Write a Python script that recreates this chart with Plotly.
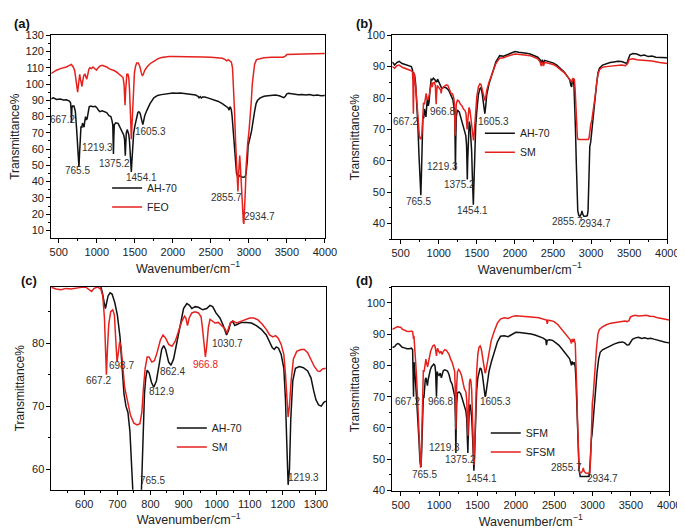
import plotly.graph_objects as go

# ---------------- data (wavenumber cm-1, transmittance %) ----------------
A_AH70 = [(400, 91), (430, 91.5), (470, 90.5), (520, 90.8), (560, 90.2), (600, 90.3), (640, 89.5), (655, 88.5),
          (662, 84), (667, 76), (672, 85), (680, 86.5), (700, 86.5), (718, 83), (735, 72), (748, 60), (758, 51),
          (765, 49), (772, 56), (782, 70), (792, 74), (802, 73), (812, 76), (822, 74.5), (832, 73.5), (842, 77),
          (852, 80), (862, 78), (872, 78.5), (885, 82), (900, 86), (920, 86.5), (950, 86), (980, 86.3), (1000, 85.5),
          (1020, 84), (1040, 83), (1070, 83.5), (1100, 83), (1130, 82.5), (1160, 80.5), (1185, 80), (1200, 77.5),
          (1210, 75), (1215, 65), (1219, 57), (1223, 66), (1230, 75), (1250, 76.2), (1280, 75.8), (1300, 74),
          (1320, 72), (1340, 70.5), (1355, 68.5), (1365, 66), (1371, 60), (1375, 56), (1380, 62), (1388, 70),
          (1400, 72), (1410, 71), (1420, 69), (1430, 65), (1440, 58), (1447, 50), (1454, 46), (1461, 52), (1470, 62),
          (1485, 70), (1500, 74), (1520, 79), (1540, 82.5), (1555, 83), (1570, 82), (1585, 79), (1597, 76),
          (1605, 75), (1615, 77), (1630, 80.5), (1660, 84), (1700, 88), (1750, 91.5), (1800, 93), (1850, 93.5),
          (1900, 93.8), (1950, 94.2), (2000, 94.5), (2050, 94.3), (2100, 94.5), (2150, 94.2), (2200, 94),
          (2250, 93.6), (2300, 93.2), (2330, 92.5), (2345, 91.5), (2360, 92.3), (2375, 91.4), (2390, 92),
          (2420, 92), (2460, 91.5), (2500, 91), (2550, 90.2), (2600, 89.3), (2650, 88), (2700, 86.5), (2725, 85.5),
          (2740, 84), (2750, 86), (2760, 85.5), (2770, 84), (2780, 80), (2790, 74), (2800, 68), (2812, 60),
          (2825, 51), (2838, 45), (2850, 43.5), (2865, 43), (2880, 43.8), (2895, 43.2), (2910, 42.8), (2930, 42.7),
          (2950, 43), (2962, 44.5), (2972, 48), (2980, 53), (2990, 62), (3000, 65), (3015, 67), (3035, 71),
          (3055, 78), (3075, 83), (3095, 88), (3115, 90), (3150, 91.5), (3200, 92.5), (3250, 92.8), (3300, 93),
          (3350, 93.2), (3400, 92.8), (3430, 92.3), (3460, 91.6), (3480, 92.5), (3500, 94), (3520, 94.3),
          (3560, 94), (3600, 93.8), (3650, 93.4), (3700, 93.6), (3750, 93.2), (3800, 93.5), (3850, 93),
          (3900, 93.3), (3950, 92.8), (4000, 93)]

A_FEO = [(400, 106.5), (430, 107.5), (470, 108.5), (520, 109.5), (560, 110), (600, 110.5), (640, 111.5), (665, 112),
         (690, 110.5), (710, 108), (725, 103), (738, 98), (748, 95), (758, 99), (767, 104), (775, 106), (785, 103),
         (795, 99), (805, 98.5), (815, 102), (830, 105.5), (845, 106), (855, 104), (868, 103), (880, 105.5),
         (895, 109), (910, 110), (930, 109.5), (950, 110.5), (975, 109.5), (995, 108.5), (1010, 109.5), (1040, 111),
         (1070, 111.5), (1100, 111), (1130, 110.5), (1160, 109.5), (1200, 108.8), (1240, 108), (1270, 107),
         (1300, 106), (1325, 105), (1345, 104), (1358, 100), (1366, 92), (1372, 87), (1378, 95), (1386, 104),
         (1395, 106), (1410, 106), (1420, 104), (1430, 97), (1440, 88), (1448, 75), (1454, 66), (1460, 72),
         (1470, 90), (1480, 101), (1495, 107), (1510, 111), (1525, 113), (1545, 113), (1565, 111), (1585, 107),
         (1600, 105), (1612, 106), (1630, 108.5), (1660, 110.5), (1700, 112.5), (1750, 114), (1800, 115.5),
         (1850, 116.3), (1900, 116.8), (1950, 117), (2000, 117), (2100, 117), (2200, 117), (2300, 116.8),
         (2400, 116.7), (2500, 116.5), (2600, 116.2), (2650, 115.8), (2690, 115), (2710, 114.3), (2730, 115),
         (2750, 114), (2770, 113.5), (2785, 110), (2798, 100), (2810, 85), (2825, 65), (2840, 45), (2850, 36),
         (2856, 34), (2862, 42), (2872, 52), (2880, 56), (2888, 50), (2900, 38), (2915, 22), (2928, 15),
         (2934, 14), (2942, 20), (2955, 36), (2965, 50), (2975, 60), (2985, 64), (3000, 70), (3015, 78),
         (3030, 88), (3045, 100), (3060, 108), (3075, 112), (3100, 115), (3150, 115.8), (3200, 116.2),
         (3300, 116.5), (3400, 116.8), (3450, 116.5), (3480, 117.2), (3500, 118.2), (3600, 118.3), (3700, 118.5),
         (3800, 118.6), (3900, 118.7), (4000, 118.8)]

B_AH70 = [(390, 91.5), (420, 90.5), (450, 91.3), (480, 91.7), (520, 91), (560, 90.7), (600, 90.3), (640, 90),
          (655, 89), (663, 87.5), (672, 88), (682, 87.5), (695, 85), (710, 80), (725, 72), (740, 62), (752, 53),
          (760, 49.5), (765, 49), (772, 55), (782, 68), (792, 74), (802, 73.5), (812, 76.5), (822, 75), (832, 74),
          (842, 77.5), (852, 80), (862, 77.5), (872, 78.5), (885, 82.5), (900, 86), (915, 85.8), (930, 86.3),
          (950, 85.8), (970, 85), (985, 86), (1000, 85.2), (1020, 84), (1040, 83), (1070, 83.5), (1100, 83.2),
          (1130, 82.5), (1160, 80.8), (1185, 79.5), (1200, 77), (1210, 74), (1215, 65), (1219, 57), (1223, 65),
          (1230, 74), (1245, 76.2), (1270, 75.5), (1295, 73.5), (1320, 71), (1340, 70), (1355, 68), (1365, 65),
          (1371, 59), (1375, 54), (1380, 60), (1388, 69), (1400, 72.5), (1412, 71), (1422, 68), (1432, 63),
          (1440, 56), (1447, 49), (1454, 46), (1461, 52), (1470, 62), (1485, 71), (1500, 76), (1520, 81),
          (1540, 83), (1555, 83.3), (1570, 81.5), (1585, 78), (1597, 76), (1605, 75), (1615, 77), (1630, 81),
          (1660, 84.5), (1700, 88), (1750, 91.5), (1800, 93.5), (1850, 93.3), (1900, 93.8), (1950, 94.3),
          (2000, 94.8), (2050, 94.6), (2100, 94.5), (2150, 94.3), (2200, 94), (2250, 93.6), (2300, 93),
          (2330, 92.2), (2345, 91), (2360, 92.2), (2375, 90.8), (2390, 92), (2420, 91.8), (2460, 91.5),
          (2500, 91.2), (2550, 90.5), (2600, 89.5), (2650, 88.2), (2700, 86.5), (2720, 85.8), (2735, 84),
          (2745, 83.5), (2755, 86), (2765, 86), (2775, 84), (2785, 78), (2795, 70), (2805, 60), (2815, 50),
          (2825, 44), (2840, 42.5), (2855, 42.3), (2870, 43), (2880, 44), (2890, 43), (2905, 42.3), (2930, 42.3),
          (2950, 42.5), (2960, 44), (2968, 50), (2975, 60), (2983, 64.5), (2995, 66), (3010, 70), (3030, 75),
          (3050, 80), (3070, 84), (3090, 88), (3110, 89.5), (3150, 90.5), (3200, 91), (3250, 91.3), (3300, 91.5),
          (3350, 91.7), (3400, 91.6), (3440, 91.2), (3470, 91), (3490, 92.5), (3510, 93.8), (3550, 94.2),
          (3600, 94), (3650, 93.5), (3700, 93.7), (3750, 93.2), (3800, 93.4), (3850, 93), (3900, 93),
          (3950, 92.8), (4000, 92.8)]

B_SM = [(390, 90), (420, 89.5), (450, 90.3), (480, 90.5), (520, 89.8), (560, 89.5), (600, 89.2), (640, 88.7),
        (655, 88.3), (661, 85), (665, 77), (667, 75), (670, 80), (675, 88), (685, 86.5), (700, 83), (715, 78),
        (730, 72), (745, 68), (755, 67), (770, 67), (780, 69), (790, 76), (800, 78.5), (812, 78), (825, 80.5),
        (835, 81.5), (848, 79.5), (862, 79.5), (875, 81), (890, 83.5), (905, 85), (915, 83.5), (925, 84.8),
        (940, 85), (955, 84), (962, 80), (966, 78), (971, 81), (980, 84), (995, 83.5), (1010, 83), (1025, 82.5),
        (1032, 81.5), (1040, 83), (1060, 83.5), (1080, 83.8), (1100, 84.2), (1120, 84), (1140, 83), (1160, 81.5),
        (1180, 81.3), (1195, 80.3), (1205, 78.5), (1212, 73), (1216, 68), (1221, 72), (1230, 78), (1245, 79.3),
        (1265, 79), (1285, 78), (1305, 77.5), (1325, 76.5), (1345, 76), (1358, 75), (1366, 72), (1372, 70),
        (1378, 72), (1388, 76), (1398, 77), (1410, 76), (1422, 73), (1432, 71.5), (1442, 69), (1450, 67),
        (1456, 66.5), (1463, 68), (1472, 72), (1485, 77), (1500, 80.5), (1520, 83.5), (1540, 84.5), (1555, 84.3),
        (1570, 82.5), (1585, 80.5), (1597, 79.5), (1605, 79.2), (1615, 80), (1630, 82.5), (1660, 85), (1700, 88),
        (1750, 91), (1800, 92.7), (1850, 92.8), (1900, 93.3), (1950, 93.7), (2000, 94), (2100, 93.8), (2200, 93.5),
        (2300, 92.5), (2330, 91.5), (2345, 90.2), (2360, 91.5), (2375, 90.2), (2390, 91.3), (2420, 91.2),
        (2460, 91), (2500, 90.7), (2550, 90), (2600, 89), (2650, 88), (2700, 86.5), (2730, 85.5), (2750, 85),
        (2765, 86.2), (2780, 86), (2790, 83), (2800, 77), (2810, 71), (2820, 67.5), (2830, 66.8), (2900, 66.8),
        (2965, 66.8), (2975, 67.5), (2985, 70), (2995, 71.5), (3010, 73), (3030, 76), (3050, 80), (3070, 84),
        (3090, 87.5), (3110, 89), (3150, 89.8), (3200, 90), (3300, 90.3), (3400, 90.5), (3450, 90.3), (3480, 91),
        (3500, 92.3), (3550, 92.5), (3600, 92.2), (3700, 92), (3800, 91.8), (3900, 91.3), (4000, 91)]

C_AH70 = [(500, 91), (560, 90.8), (620, 90.5), (645, 90), (650, 89), (655, 88), (660, 86.5), (664, 85.5),
          (668, 86.5), (672, 87.5), (678, 88), (684, 87.8), (692, 86.5), (700, 84.5), (708, 81), (714, 76.5),
          (720, 72), (726, 70), (732, 69), (738, 66), (742, 60), (746, 55), (752, 51), (758, 49.5), (765, 49),
          (770, 52), (774, 58), (778, 66), (782, 72), (786, 74.5), (790, 75.7), (796, 75.3), (803, 73.8),
          (810, 73), (818, 74), (826, 76.5), (834, 79), (840, 79.6), (846, 79), (855, 77), (862, 76.5),
          (870, 77.5), (880, 80), (890, 83), (900, 85.5), (910, 86.3), (918, 86), (925, 85.5), (935, 85.8),
          (945, 85.7), (958, 85.3), (970, 85.5), (980, 86), (988, 85.8), (998, 84.8), (1010, 84), (1020, 82.8),
          (1030, 81.3), (1036, 82), (1042, 83.2), (1048, 83.5), (1055, 82.8), (1062, 83), (1075, 83.3),
          (1090, 83.3), (1105, 83.2), (1120, 82.8), (1135, 82.2), (1150, 81.3), (1160, 80.2), (1168, 79.3),
          (1174, 79), (1180, 79.4), (1187, 79.2), (1195, 78.2), (1203, 76), (1208, 71), (1212, 64), (1216, 57.5),
          (1220, 60), (1224, 68), (1230, 74), (1238, 76), (1250, 76.3), (1262, 76.1), (1275, 75.6), (1285, 74.5),
          (1293, 72.5), (1300, 71), (1308, 70.2), (1316, 70), (1324, 70.6), (1330, 70.8)]

C_SM = [(500, 88.9), (515, 88.6), (530, 88.5), (545, 88.7), (560, 88.6), (580, 88.8), (595, 88.9), (605, 88.9),
        (615, 88.4), (622, 88.2), (630, 88.7), (640, 88.9), (650, 88.6), (656, 87.5), (661, 84), (665, 78),
        (667, 75), (670, 79), (674, 83), (680, 85), (686, 85.3), (691, 84.5), (695, 81), (699, 77), (703, 78.5),
        (707, 80.2), (711, 79.5), (716, 76), (722, 73), (730, 71), (740, 68.5), (750, 67.3), (760, 67),
        (768, 67.2), (774, 69), (779, 73), (784, 76), (790, 77.8), (796, 77.8), (804, 77), (812, 77.2),
        (820, 78.5), (830, 80.5), (838, 81.3), (846, 80.8), (855, 79.8), (865, 79.5), (875, 80.3), (885, 81.8),
        (895, 83.5), (903, 84.3), (907, 84), (912, 82.8), (917, 84), (925, 84.8), (935, 85), (945, 84.8),
        (953, 84.2), (958, 82), (963, 78.5), (966, 77.8), (970, 79.5), (975, 82.5), (980, 83.8), (987, 83.5),
        (995, 83.2), (1005, 83.3), (1015, 82.8), (1025, 82.3), (1031, 81.6), (1036, 82.3), (1042, 83.3),
        (1050, 83.5), (1060, 83.2), (1075, 83.5), (1090, 83.8), (1100, 84), (1112, 84), (1125, 83.7),
        (1138, 83), (1150, 82.2), (1160, 81.3), (1170, 81), (1178, 81.2), (1186, 80.8), (1195, 79.8),
        (1203, 78.2), (1208, 75), (1212, 71), (1216, 68.3), (1220, 70), (1225, 74), (1232, 77.5), (1242, 78.7),
        (1255, 79), (1265, 79), (1275, 78.5), (1285, 77.5), (1295, 76.3), (1305, 75.6), (1312, 75.5),
        (1320, 75.9), (1330, 76)]

D_SFM = [(390, 85.7), (420, 86), (440, 86.6), (460, 87), (480, 86.8), (500, 86.2), (520, 85.8), (550, 85.6),
         (580, 85.3), (610, 85.3), (640, 85.5), (655, 85), (660, 80), (664, 72), (667, 70), (670, 76), (676, 81),
         (684, 78), (692, 76), (700, 72), (712, 67), (725, 63), (738, 56), (750, 49.5), (758, 47.7), (765, 47.5),
         (772, 52), (780, 60), (788, 68), (795, 70.5), (802, 69.5), (810, 73), (820, 75.5), (830, 76), (840, 74),
         (848, 73.5), (858, 75.5), (870, 77.5), (885, 78.5), (900, 79.5), (915, 80.2), (930, 80.4), (945, 80),
         (955, 78), (960, 74), (966, 70), (971, 74), (976, 78), (985, 77.2), (1000, 76.8), (1015, 77.5),
         (1030, 76), (1040, 77), (1055, 78.3), (1075, 78.6), (1095, 78.5), (1110, 78.2), (1130, 77), (1150, 75),
         (1170, 74), (1190, 72), (1205, 70), (1212, 64), (1216, 55), (1219, 52), (1223, 60), (1230, 68),
         (1240, 71.2), (1260, 71.5), (1280, 71), (1300, 69.5), (1320, 67.5), (1335, 66), (1350, 65.3), (1360, 63),
         (1367, 58), (1372, 53), (1375, 52), (1379, 56), (1386, 64), (1395, 67), (1405, 67.5), (1415, 66),
         (1425, 63.5), (1435, 58), (1443, 51), (1450, 47), (1454, 46.3), (1459, 49), (1467, 57), (1478, 66),
         (1490, 72), (1505, 76), (1520, 78.3), (1535, 79.2), (1550, 78.8), (1565, 77), (1580, 74), (1593, 71),
         (1600, 70), (1607, 70.3), (1615, 72), (1630, 75.5), (1650, 78), (1680, 81), (1720, 84.5), (1760, 87.5),
         (1800, 89.3), (1850, 89.5), (1900, 89.2), (1950, 90), (2000, 90.6), (2050, 90.5), (2100, 90.4),
         (2150, 90.2), (2200, 90), (2250, 89.7), (2300, 89.3), (2350, 88.8), (2390, 88.2), (2400, 86.5),
         (2410, 88), (2440, 88.2), (2480, 88), (2520, 87.3), (2560, 86.5), (2600, 85.3), (2640, 84), (2680, 83),
         (2700, 82.2), (2715, 81), (2725, 80), (2735, 81.3), (2745, 80.3), (2760, 81), (2775, 79.5), (2785, 75),
         (2795, 68), (2805, 60), (2815, 52), (2825, 46.5), (2840, 44.5), (2870, 44.5), (2900, 44.3), (2930, 44.3),
         (2955, 44.5), (2965, 47), (2975, 53), (2985, 56.5), (2993, 57.8), (3005, 62), (3020, 67), (3040, 73),
         (3060, 78), (3080, 82), (3100, 84.2), (3130, 85), (3170, 85.5), (3220, 86.2), (3280, 86.8),
         (3340, 87.3), (3390, 87.5), (3420, 87.2), (3450, 86.5), (3475, 86.6), (3495, 87.5), (3520, 88.3),
         (3560, 88.8), (3600, 89), (3640, 88.6), (3680, 88.8), (3720, 88.5), (3760, 88.7), (3800, 88.4),
         (3850, 88), (3900, 87.8), (3950, 87.4), (4000, 87.2)]

D_SFSM = [(390, 91.5), (420, 91.8), (440, 92.2), (460, 92.4), (480, 92.2), (500, 92.2), (520, 91.6), (550, 91.2),
          (580, 90.9), (610, 90.8), (640, 91), (655, 90.8), (663, 89.5), (667, 88.5), (672, 89.5), (680, 87),
          (690, 84), (700, 79), (715, 72), (730, 63), (742, 54), (752, 48.5), (758, 47.3), (765, 48), (772, 55),
          (780, 65), (788, 74), (795, 78.5), (805, 78), (815, 80.5), (828, 82), (840, 80.5), (850, 79.5),
          (862, 81), (875, 83), (890, 84.5), (905, 85.5), (920, 86.3), (935, 86.5), (948, 86), (958, 84.5),
          (966, 83), (972, 84.5), (980, 85.5), (995, 84.5), (1010, 84), (1025, 84.5), (1040, 83.5), (1055, 84.5),
          (1075, 85), (1095, 84.8), (1110, 84.3), (1130, 83.5), (1150, 82), (1170, 81), (1190, 79.3), (1203, 78),
          (1210, 73), (1215, 64), (1219, 59.5), (1223, 66), (1230, 74), (1240, 78), (1255, 78.7), (1270, 78.2),
          (1290, 77), (1310, 74.5), (1330, 72.5), (1350, 71.5), (1360, 69), (1367, 64), (1372, 58.5),
          (1376, 57.5), (1380, 62), (1387, 70), (1396, 74.5), (1405, 75.7), (1415, 75), (1425, 72), (1435, 66),
          (1443, 57), (1450, 50), (1455, 48.2), (1460, 50), (1468, 60), (1478, 70), (1490, 78), (1505, 83.5),
          (1520, 85.8), (1535, 86.2), (1550, 85.3), (1565, 83), (1580, 80), (1593, 78), (1600, 77.5),
          (1607, 77.8), (1615, 79), (1630, 82), (1650, 85), (1680, 88), (1720, 91), (1760, 93.5), (1800, 94.8),
          (1850, 95.2), (1900, 95), (1950, 95.6), (2000, 95.9), (2100, 95.8), (2200, 95.5), (2300, 95.2),
          (2380, 94.7), (2400, 94.5), (2410, 93.3), (2420, 94.5), (2460, 94.3), (2500, 94), (2550, 93),
          (2600, 91.5), (2640, 90.2), (2680, 89), (2710, 88.2), (2725, 87), (2735, 88.5), (2745, 87.5),
          (2760, 88.5), (2775, 87), (2785, 82), (2795, 72), (2805, 62), (2815, 53), (2825, 47), (2835, 45.8),
          (2855, 45.7), (2870, 46.3), (2880, 47.2), (2890, 46.2), (2910, 45.6), (2940, 45.5), (2965, 45.6),
          (2975, 50), (2983, 60), (2990, 66), (2998, 68), (3008, 70), (3020, 75), (3035, 80), (3050, 85),
          (3070, 90), (3090, 91.5), (3130, 92.3), (3180, 93), (3240, 93.5), (3300, 93.8), (3360, 94),
          (3420, 94.2), (3450, 94), (3475, 94.3), (3495, 95.5), (3520, 95.8), (3560, 96), (3600, 95.8),
          (3650, 95.9), (3700, 96), (3750, 95.7), (3800, 95.6), (3850, 95.2), (3900, 95), (3950, 94.7),
          (4000, 94.5)]

# peak labels: (text, wavenumber, transmittance)
A_LABELS = [("667.2", 555, 78), ("765.5", 748, 46.7), ("1219.3", 1006, 60.7), ("1375.2", 1230, 51),
            ("1454.1", 1587, 42.7), ("1605.3", 1703, 70.8), ("2855.7", 2706, 30), ("2934.7", 3144, 18.6)]
B_LABELS = [("667.2", 562, 72.4), ("966.8", 1055, 75.8), ("1605.3", 1718, 72.4), ("1219.3", 1055, 58.3),
            ("1375.2", 1268, 52.4), ("765.5", 734, 46.9), ("1454.1", 1440, 44), ("2855.7", 2690, 40.6),
            ("2934.7", 3058, 40.1)]
C_LABELS = [("667.2", 644, 74), ("698.7", 713, 76.5), ("812.9", 834, 72.3), ("862.4", 866, 75.5),
            ("966.8", 965, 76.6), ("1030.7", 1034, 79.9), ("765.5", 807, 58.2), ("1219.3", 1262, 58.7)]
C_RED_LABELS = ["966.8"]
D_LABELS = [("667.2", 582, 68.4), ("966.8", 1016, 68.4), ("1605.3", 1730, 68.4), ("1219.3", 1071, 53.6),
            ("1375.2", 1284, 49.9), ("765.5", 808, 45.2), ("1454.1", 1548, 43.9), ("2855.7", 2665, 47.5),
            ("2934.7", 3133, 43.7)]

# ---------------- layout helpers ----------------
W, H = 685, 528
BLACK = "#111111"
RED = "#e5211d"
FONT = "Liberation Sans"


def fx(px):
    return px / W


def fy(py):
    return 1 - py / H


fig = go.Figure()

panels = [
    dict(tag="(a)", xa="x", ya="y", leg="legend", xdom=(43, 322), ydom=(21.7, 229),
         xr=[400, 4000], yr=[5.2, 130], xd=500, xm=250, yd=10, ym=5,
         series=[("AH-70", A_AH70, BLACK), ("FEO", A_FEO, RED)], labels=A_LABELS,
         legxy=(100, 163), tagxy=(3, 10)),
    dict(tag="(b)", xa="x2", ya="y2", leg="legend2", xdom=(390.7, 671), ydom=(21.7, 230),
         xr=[390, 4000], yr=[35, 100], xd=500, xm=250, yd=10, ym=5,
         series=[("AH-70", B_AH70, BLACK), ("SM", B_SM, RED)], labels=B_LABELS,
         legxy=(480, 107), tagxy=(352, 10)),
    dict(tag="(c)", xa="x3", ya="y3", leg="legend3", xdom=(43.3, 323), ydom=(278.3, 486),
         xr=[501, 1330], yr=[56.7, 89], xd=100, xm=50, yd=10, ym=5,
         series=[("AH-70", C_AH70, BLACK), ("SM", C_SM, RED)], labels=C_LABELS,
         legxy=(166, 408), tagxy=(10, 272)),
    dict(tag="(d)", xa="x4", ya="y4", leg="legend4", xdom=(390.7, 673), ydom=(279, 487.3),
         xr=[390, 4000], yr=[39.8, 105], xd=500, xm=250, yd=10, ym=5,
         series=[("SFM", D_SFM, BLACK), ("SFSM", D_SFSM, RED)], labels=D_LABELS,
         legxy=(486, 413), tagxy=(352, 272)),
]

layout = dict(
    width=W, height=H, margin=dict(l=0, r=0, t=0, b=0),
    paper_bgcolor="white", plot_bgcolor="white",
    font=dict(family=FONT, color="#222222", size=11),
    annotations=[],
)

for p in panels:
    for name, pts, col in p["series"]:
        fig.add_trace(go.Scatter(
            x=[q[0] for q in pts], y=[q[1] for q in pts], mode="lines", name=name,
            line=dict(color=col, width=1.5), xaxis=p["xa"], yaxis=p["ya"], legend=p["leg"],
            hoverinfo="skip"))

    xkey = "xaxis" + p["xa"][1:]
    ykey = "yaxis" + p["ya"][1:]
    common = dict(showline=True, linecolor="black", linewidth=1, mirror=True, ticks="outside",
                  ticklen=4, tickwidth=1, tickcolor="black", showgrid=False, zeroline=False,
                  tickfont=dict(family=FONT, size=11, color="#222222"))
    layout[xkey] = dict(common, domain=[fx(p["xdom"][0]), fx(p["xdom"][1])], range=p["xr"],
                        dtick=p["xd"], tick0=0, anchor=p["ya"],
                        minor=dict(ticks="outside", ticklen=2, dtick=p["xm"], tick0=0, tickcolor="black"),
                        title=dict(text="Wavenumber/cm<sup>−1</sup>", font=dict(family=FONT, size=12.5,
                                                                              color="#222222"), standoff=6))
    layout[ykey] = dict(common, domain=[fy(p["ydom"][1]), fy(p["ydom"][0])], range=p["yr"],
                        dtick=p["yd"], tick0=0, anchor=p["xa"],
                        minor=dict(ticks="outside", ticklen=2, dtick=p["ym"], tick0=0, tickcolor="black"),
                        title=dict(text="Transmittance%", font=dict(family=FONT, size=12, color="#222222"),
                                   standoff=4))
    layout[p["leg"]] = dict(x=fx(p["legxy"][0]), y=fy(p["legxy"][1]), xanchor="left", yanchor="top",
                            bgcolor="rgba(0,0,0,0)", borderwidth=0, itemwidth=30, tracegroupgap=0,
                            font=dict(family=FONT, size=10.5, color="#222222"))
    layout["annotations"].append(dict(text="<b>" + p["tag"] + "</b>", xref="paper", yref="paper",
                                      x=fx(p["tagxy"][0]), y=fy(p["tagxy"][1]), xanchor="left",
                                      yanchor="middle", showarrow=False,
                                      font=dict(family=FONT, size=13, color="#111111")))
    for txt, wx, ty in p["labels"]:
        col = RED if (p["tag"] == "(c)" and txt in C_RED_LABELS) else "#333333"
        layout["annotations"].append(dict(text=txt, x=wx, y=ty, xref=p["xa"], yref=p["ya"],
                                          showarrow=False, xanchor="center", yanchor="middle",
                                          font=dict(family=FONT, size=10, color=col)))

fig.update_layout(**layout)
fig.update_layout(showlegend=True)
fig.write_html("out.html")
